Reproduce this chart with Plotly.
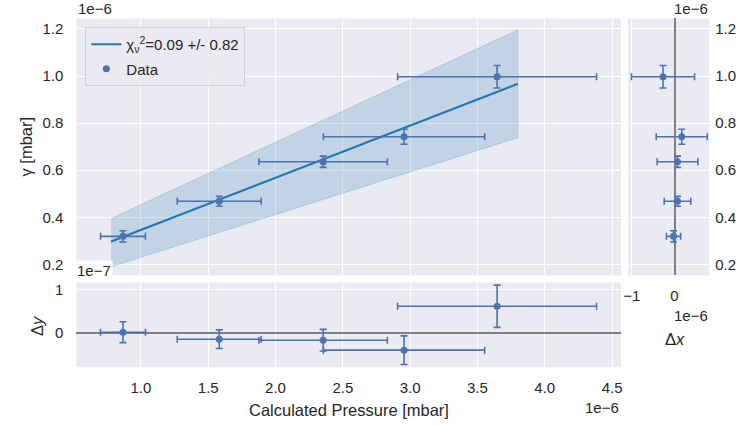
import plotly.graph_objects as go

# ---- data (x, y in units of 1e-6 mbar; residual dy in 1e-7; dx in 1e-6) ----
p_calc = [0.867, 1.582, 2.354, 2.955, 3.646]
p_calc_err = [0.167, 0.312, 0.477, 0.599, 0.739]
gamma = [0.319, 0.468, 0.636, 0.742, 0.997]
gamma_err = [0.024, 0.021, 0.024, 0.032, 0.048]
res_y = [0.023, -0.138, -0.161, -0.391, 0.621]
res_y_err = [0.24, 0.215, 0.25, 0.33, 0.487]
res_x = [-0.023, 0.07, 0.07, 0.17, -0.27]
fit_x = [0.778, 3.80]
fit_y = [0.297, 0.967]
band_lo = [0.19, 0.738]
band_hi = [0.395, 1.196]
x_ticks = [1.0, 1.5, 2.0, 2.5, 3.0, 3.5, 4.0, 4.5]
y_ticks = [0.2, 0.4, 0.6, 0.8, 1.0, 1.2]
legend_fit = "χ<sub>ν</sub><sup>2</sup>=0.09 +/- 0.82"

W, H = 738, 425
def fx(p): return p / W
def fy(p): return 1 - p / H

C_ERR = "#4C72B0"
C_FIT = "#1f77b4"
TXT = "#262626"
FONT = "Liberation Sans, Arial, sans-serif"

fig = go.Figure()

# band
fig.add_trace(go.Scatter(
    x=fit_x + fit_x[::-1], y=band_hi + band_lo[::-1], fill="toself",
    fillcolor="rgba(31,119,180,0.2)", line=dict(width=1, color="rgba(31,119,180,0.2)"),
    mode="lines", showlegend=False, hoverinfo="skip", xaxis="x", yaxis="y"))
# fit line
fig.add_trace(go.Scatter(
    x=fit_x, y=fit_y, mode="lines", line=dict(color=C_FIT, width=2),
    name=legend_fit, legendgroup="a", xaxis="x", yaxis="y"))

errkw = dict(color=C_ERR, thickness=1.6, width=3.5)
# data main
fig.add_trace(go.Scatter(
    x=p_calc, y=gamma, mode="markers", marker=dict(color=C_ERR, size=7),
    error_x=dict(type="data", array=p_calc_err, **errkw),
    error_y=dict(type="data", array=gamma_err, **errkw),
    name="Data", legendgroup="b", xaxis="x", yaxis="y"))
# residual dy
fig.add_trace(go.Scatter(
    x=p_calc, y=res_y, mode="markers", marker=dict(color=C_ERR, size=7),
    error_x=dict(type="data", array=p_calc_err, **errkw),
    error_y=dict(type="data", array=res_y_err, **errkw),
    showlegend=False, xaxis="x2", yaxis="y2"))
# residual dx
fig.add_trace(go.Scatter(
    x=res_x, y=gamma, mode="markers", marker=dict(color=C_ERR, size=7),
    error_x=dict(type="data", array=p_calc_err, **errkw),
    error_y=dict(type="data", array=gamma_err, **errkw),
    showlegend=False, xaxis="x3", yaxis="y3"))

axc = dict(showline=False, gridcolor="white", gridwidth=1.3, ticks="",
           tickfont=dict(family=FONT, size=15, color=TXT))

main_x_dom = [fx(72), fx(621)]
main_y_dom = [fy(275), fy(17.5)]

fig.update_layout(
    width=W, height=H, margin=dict(l=0, r=0, t=0, b=0),
    paper_bgcolor="white", plot_bgcolor="#EAEAF2",
    font=dict(family=FONT, color=TXT, size=15),
    xaxis=dict(domain=main_x_dom, range=[0.521, 4.566], tickvals=x_ticks,
               showticklabels=False, zeroline=False, anchor="y", **axc),
    yaxis=dict(domain=main_y_dom, range=[0.1534, 1.2445], tickvals=y_ticks,
               tickformat=".1f", zeroline=False, anchor="x", ticklabelstandoff=12, **axc),
    xaxis2=dict(domain=main_x_dom, matches="x", tickvals=x_ticks, tickformat=".1f",
                zeroline=False, anchor="y2", ticklabelstandoff=10, **axc),
    yaxis2=dict(domain=[fy(367), fy(282)], range=[-0.782, 1.172], tickvals=[0, 1],
                tickformat="d", zeroline=True, zerolinecolor="#808080", zerolinewidth=1.6,
                anchor="x2", ticklabelstandoff=12, **axc),
    xaxis3=dict(domain=[fx(628), fx(710)], range=[-1.093, 0.814], tickvals=[-1, 0],
                tickformat="d", zeroline=True, zerolinecolor="#808080", zerolinewidth=1.6,
                anchor="y3", ticklabelstandoff=10, **axc),
    yaxis3=dict(domain=main_y_dom, matches="y", tickvals=y_ticks, tickformat=".1f",
                side="right", zeroline=False, anchor="x3", ticklabelstandoff=5, **axc),
    legend=dict(x=fx(81), y=fy(26), xanchor="left", yanchor="top",
                bgcolor="rgba(234,234,242,0.8)", bordercolor="#d0d0d8", borderwidth=1,
                font=dict(family=FONT, size=15, color=TXT), tracegroupgap=2),
    showlegend=True,
)

def ann(text, x, y, xanchor="center", angle=0, size=15, bg=None):
    d = dict(text=text, x=fx(x), y=fy(y), xref="paper", yref="paper",
             xanchor=xanchor, yanchor="middle", showarrow=False, textangle=angle,
             font=dict(family=FONT, size=size, color=TXT))
    if bg:
        d["bgcolor"] = bg
    fig.add_annotation(**d)

ann("1e−6", 72, 8, "left")
ann("1e−6", 711, 8, "right")
ann("1e−7", 71, 270, "left", bg="white")
ann("1e−6", 621, 407, "right")
ann("1e−6", 711, 315, "right")
ann("Δ<i>x</i>", 675, 339, size=16.5)
ann("Calculated Pressure [mbar]", 346.5, 410, size=16.5)
ann("γ [mbar]", 21, 146, angle=-90, size=16.5)
ann("Δ<i>y</i>", 32, 325, angle=-90, size=16.5)

fig.write_html("out.html")
